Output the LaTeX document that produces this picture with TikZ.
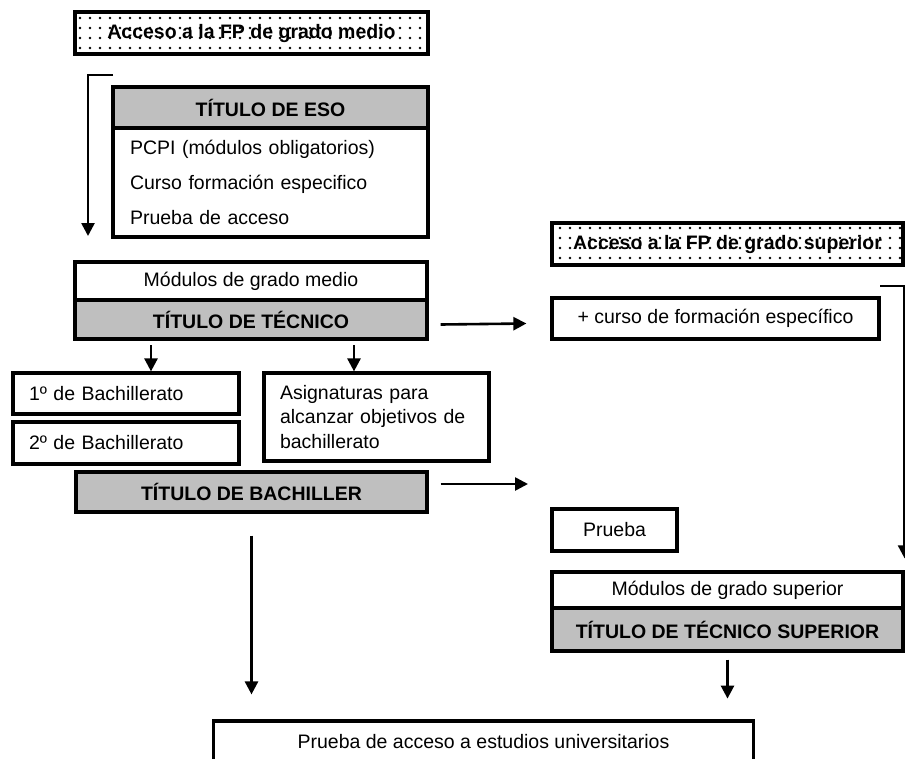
\documentclass[tikz,border=0pt]{standalone}
\usepackage{fontspec}
\setmainfont{Liberation Sans}
\usetikzlibrary{arrows.meta,patterns.meta}
\tikzset{
  caja/.style={draw,line width=3.2pt,inner sep=0pt,font=\fontsize{19.5}{24.5}\selectfont},
  titulo/.style={caja,fill=gray!50,font=\fontsize{19.5}{24.5}\selectfont\bfseries},
  acceso/.style={caja,pattern={Dots[distance=10pt,radius=1.3pt]},font=\fontsize{19.5}{24.5}\selectfont\bfseries},
  flecha/.style={line width=2.6pt,-{Triangle[length=13pt,width=13pt]}}
}
\begin{document}
\begin{tikzpicture}[x=1pt,y=-1pt]
  \useasboundingbox (0,0) rectangle (905,758);
  \clip (0,0) rectangle (905,758);
  \node[acceso,minimum width=353pt,minimum height=42pt] (accmed) at (251.5,33) {Acceso a la FP de grado medio};
  \node[titulo,minimum width=315pt,minimum height=41pt] (esotit) at (270.5,107.5) {TÍTULO DE ESO};
  \node[caja,inner xsep=17pt,text width=281pt,align=left,minimum height=109pt,font=\fontsize{19.5}{35}\selectfont] (esocur) at (270.5,182.5)
    {PCPI (módulos obligatorios)\\Curso formación especifico\\Prueba de acceso};
  \node[caja,minimum width=352pt,minimum height=38pt] (modmed) at (251,281) {Módulos de grado medio};
  \node[titulo,minimum width=352pt,minimum height=39pt] (tecnico) at (251,319.5) {TÍTULO DE TÉCNICO};
  \node[caja,inner xsep=16pt,text width=194pt,align=left,minimum height=41pt] (bach1) at (126,393.5) {1º de Bachillerato};
  \node[caja,inner xsep=16pt,text width=194pt,align=left,minimum height=42pt] (bach2) at (126,443) {2º de Bachillerato};
  \node[caja,inner xsep=16pt,text width=193pt,align=left,minimum height=88pt] (asig) at (376.5,417)
    {Asignaturas para\\alcanzar objetivos de\\bachillerato};
  \node[titulo,minimum width=351pt,minimum height=40pt] (bachiller) at (251.5,492) {TÍTULO DE BACHILLER};
  \node[acceso,minimum width=351pt,minimum height=42pt] (accsup) at (727.5,244) {Acceso a la FP de grado superior};
  \node[caja,minimum width=327pt,minimum height=41pt] (curso) at (715.5,318.5) {+ curso de formación específico};
  \node[caja,minimum width=125pt,minimum height=42pt] (prueba) at (614.5,530) {Prueba};
  \node[caja,minimum width=351pt,minimum height=36pt] (modsup) at (727.5,590) {Módulos de grado superior};
  \node[titulo,minimum width=351pt,minimum height=43pt] (tecsup) at (727.5,629.5) {TÍTULO DE TÉCNICO SUPERIOR};
  \node[caja,minimum width=540pt,minimum height=42pt] (pau) at (483.5,742) {Prueba de acceso a estudios universitarios};
  \coordinate (esoin) at (113,75);
  \coordinate (esofin) at (88,236);
  \coordinate (supin) at (880,286);
  \coordinate (bachfin) at (528,484);
  \draw[flecha] (esoin) -| (esofin);
  \draw[flecha] ([xshift=25pt,yshift=26pt]bach1.north) -- ([xshift=25pt]bach1.north);
  \draw[flecha] ([xshift=-22.5pt,yshift=26pt]asig.north) -- ([xshift=-22.5pt]asig.north);
  \draw[flecha] ([xshift=12pt,yshift=-5pt]tecnico.east) -- ([xshift=-24pt,yshift=-5pt]curso.west);
  \draw[flecha] ([xshift=12pt,yshift=8pt]bachiller.east) -- (bachfin);
  \draw[flecha] (supin) -- (modsup.north east |- supin) -- ([yshift=12pt]modsup.north east);
  \draw[flecha] ([yshift=-22pt]bachiller.south) -- ([yshift=25pt]pau.north -| bachiller.south);
  \draw[flecha] ([yshift=-7pt]tecsup.south) -- ([yshift=-46pt]tecsup.south);
\end{tikzpicture}
\end{document}
